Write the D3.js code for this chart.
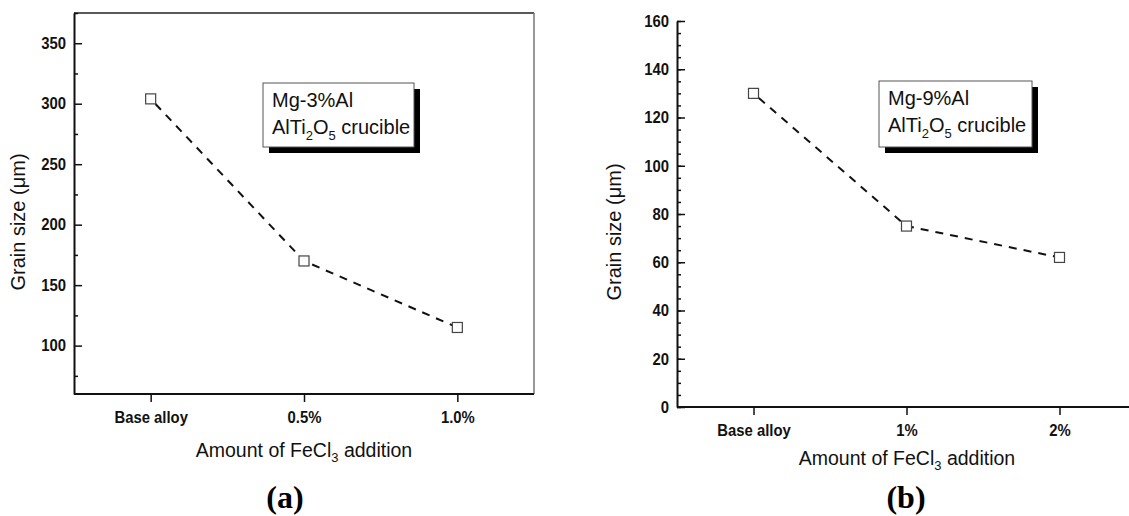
<!DOCTYPE html>
<html><head><meta charset="utf-8">
<script src="https://cdn.jsdelivr.net/npm/d3@7"></script>
<style>
body{margin:0;background:#fff;}
svg{display:block;font-family:"Liberation Sans",Arial,sans-serif;}
</style></head>
<body><svg id="c" width="1129" height="516"></svg>
<script>
// ---- data ----
const categoriesA = ["Base alloy", "0.5%", "1.0%"];
const valuesA = [304, 170, 115];
const categoriesB = ["Base alloy", "1%", "2%"];
const valuesB = [130, 75, 62];
const majorTicksA = [100, 150, 200, 250, 300, 350];
const minorTicksA = [75, 125, 175, 225, 275, 325, 375];
const majorTicksB = [0, 20, 40, 60, 80, 100, 120, 140, 160];
const minorTicksB = d3.range(0, 161, 5);
const legendA = ["Mg-3%Al"];
const legendB = ["Mg-9%Al"];

const svg = d3.select("#c");

function squeeze(sel, f) {
  sel.each(function () {
    const w = this.getComputedTextLength();
    d3.select(this).attr("textLength", w * f).attr("lengthAdjust", "spacingAndGlyphs");
  });
}

function panel(opt) {
  const g = svg.append("g");
  const x = d3.scalePoint().domain(opt.cats).range(opt.xr).padding(0.5);
  const y = d3.scaleLinear().domain(opt.yd).range(opt.yr);
  if (opt.frame) {
    g.append("line").attr("x1", opt.xr[0]).attr("x2", opt.xr[1]).attr("y1", opt.yr[1]).attr("y2", opt.yr[1])
      .attr("stroke", "#222").attr("stroke-width", 1.5);
    g.append("line").attr("x1", opt.xr[1]).attr("x2", opt.xr[1]).attr("y1", opt.yr[0]).attr("y2", opt.yr[1])
      .attr("stroke", "#777").attr("stroke-width", 1.5);
  }
  g.append("g").attr("transform", `translate(${opt.xr[0]},0)`)
    .call(d3.axisLeft(y).tickValues(opt.minor).tickSize(-4).tickSizeOuter(0).tickFormat(""))
    .call(s => s.select(".domain").remove())
    .selectAll("line").attr("stroke", "#111").attr("stroke-width", 1.5);
  const ya = g.append("g").attr("transform", `translate(${opt.xr[0]},0)`)
    .call(d3.axisLeft(y).tickValues(opt.major).tickSize(-8).tickSizeOuter(0).tickPadding(8));
  ya.select(".domain").attr("stroke", "#111").attr("stroke-width", 2);
  ya.selectAll("line").attr("stroke", "#111").attr("stroke-width", 1.5);
  ya.selectAll("text").attr("font-size", 16.5).attr("font-weight", "bold").attr("fill", "#111")
    .attr("font-family", "'Liberation Sans',Arial,sans-serif").call(squeeze, 0.9);
  const xa = g.append("g").attr("transform", `translate(0,${opt.yr[0]})`)
    .call(d3.axisBottom(x).tickSize(8).tickSizeOuter(0).tickPadding(9));
  xa.select(".domain").attr("stroke", "#111").attr("stroke-width", 2)
    .attr("d", `M${opt.xr[0]},0H${opt.xend}`);
  xa.selectAll("line").attr("stroke", "#111").attr("stroke-width", 1.5);
  xa.selectAll("text").attr("font-size", 16.5).attr("font-weight", "bold").attr("fill", "#111")
    .attr("font-family", "'Liberation Sans',Arial,sans-serif").call(squeeze, 0.9);
  const pts = opt.cats.map((c, i) => [x(c), y(opt.vals[i])]);
  g.append("path").datum(pts).attr("d", d3.line()).attr("fill", "none")
    .attr("stroke", "#111").attr("stroke-width", 2).attr("stroke-dasharray", "8,7")
    .attr("stroke-dashoffset", -7);
  g.selectAll("rect.pt").data(pts).join("rect").attr("class", "pt")
    .attr("x", d => d[0] - 5).attr("y", d => d[1] - 5).attr("width", 10).attr("height", 10)
    .attr("fill", "#fff").attr("stroke", "#444").attr("stroke-width", 1.2);
  const lb = opt.legend;
  g.append("rect").attr("x", lb.x + 6).attr("y", lb.y + 6).attr("width", lb.w).attr("height", lb.h).attr("fill", "#000");
  g.append("rect").attr("x", lb.x).attr("y", lb.y).attr("width", lb.w).attr("height", lb.h)
    .attr("fill", "#fff").attr("stroke", "#555").attr("stroke-width", 1);
  g.append("text").attr("x", lb.x + 9).attr("y", lb.y + 24).attr("font-size", 20).attr("fill", "#111").text(opt.legendText[0]);
  const t2 = g.append("text").attr("x", lb.x + 9).attr("y", lb.y + 51).attr("font-size", 20).attr("fill", "#111");
  t2.append("tspan").text("AlTi");
  t2.append("tspan").attr("font-size", 13).attr("dy", 6).text("2");
  t2.append("tspan").attr("dy", -6).text("O");
  t2.append("tspan").attr("font-size", 13).attr("dy", 6).text("5");
  t2.append("tspan").attr("dy", -6).text(" crucible");
  g.append("text").attr("transform", `translate(${opt.ytx},${opt.yty}) rotate(-90)`)
    .attr("text-anchor", "middle").attr("font-size", 20).attr("fill", "#111").text("Grain size (\u03bcm)");
  const xt = g.append("text").attr("x", opt.xtx).attr("y", opt.xty).attr("text-anchor", "middle")
    .attr("font-size", 19.5).attr("fill", "#111");
  xt.append("tspan").text("Amount of FeCl");
  xt.append("tspan").attr("font-size", 13).attr("dy", 5).text("3");
  xt.append("tspan").attr("dy", -5).text(" addition");
  g.append("text").attr("x", opt.lx).attr("y", 508).attr("text-anchor", "middle")
    .attr("font-family", "'Liberation Serif','Times New Roman',serif").attr("font-weight", "bold")
    .attr("font-size", 32).attr("fill", "#000").text(opt.label);
}

panel({cats: categoriesA, vals: valuesA, xr: [74, 534], xend: 534, yd: [60, 375], yr: [394, 13],
  major: majorTicksA, minor: minorTicksA, frame: true,
  legend: {x: 263, y: 83, w: 151, h: 64}, legendText: legendA,
  ytx: 25, yty: 222, xtx: 304, xty: 457, lx: 285, label: "(a)"});

panel({cats: categoriesB, vals: valuesB, xr: [677, 1136], xend: 1129, yd: [0, 160], yr: [407, 21],
  major: majorTicksB, minor: minorTicksB, frame: false,
  legend: {x: 879, y: 81, w: 153, h: 66}, legendText: legendB,
  ytx: 621, yty: 232, xtx: 907, xty: 465, lx: 906, label: "(b)"});
</script></body></html>
